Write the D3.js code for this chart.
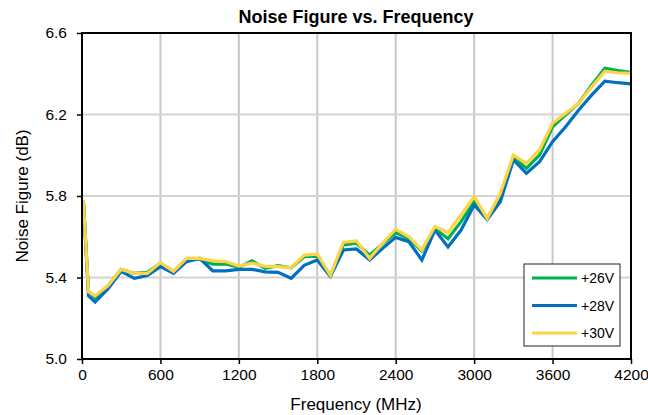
<!DOCTYPE html>
<html>
<head>
<meta charset="utf-8">
<script src="https://cdn.jsdelivr.net/npm/d3@7"></script>
<style>
  body { margin: 0; background: #fff; }
  text { font-family: "Liberation Sans", Arial, sans-serif; }
</style>
</head>
<body>
<div class="grafico"></div>
<script>
// frequency points (MHz)
const freqs = [10, 50, 100, 200, 300, 400, 500, 600, 700, 800, 900, 1000, 1100, 1200, 1300, 1400,
  1500, 1600, 1700, 1800, 1900, 2000, 2100, 2200, 2300, 2400, 2500, 2600, 2700, 2800, 2900,
  3000, 3100, 3200, 3300, 3400, 3500, 3600, 3700, 3800, 3900, 4000, 4100, 4200]

const nf26 = [5.78, 5.33, 5.30, 5.36, 5.44, 5.42, 5.425, 5.47, 5.43, 5.49, 5.49, 5.466, 5.466, 5.45, 5.482, 5.445,
  5.458, 5.448, 5.502, 5.505, 5.41, 5.56, 5.568, 5.51, 5.565, 5.62, 5.59, 5.53, 5.64, 5.59, 5.674,
  5.772, 5.69, 5.80, 5.99, 5.936, 6.001, 6.14, 6.198, 6.255, 6.345, 6.427, 6.415, 6.407]

const nf28 = [5.78, 5.31, 5.28, 5.345, 5.43, 5.396, 5.41, 5.453, 5.42, 5.478, 5.494, 5.433, 5.433, 5.44, 5.44, 5.428,
  5.425, 5.396, 5.46, 5.486, 5.405, 5.535, 5.54, 5.486, 5.543, 5.597, 5.576, 5.486, 5.633, 5.55, 5.633,
  5.756, 5.685, 5.772, 5.977, 5.911, 5.968, 6.067, 6.14, 6.222, 6.296, 6.364, 6.356, 6.35]

const nf30 = [5.78, 5.33, 5.31, 5.36, 5.44, 5.42, 5.42, 5.473, 5.43, 5.494, 5.494, 5.482, 5.478, 5.456, 5.47, 5.455,
  5.453, 5.448, 5.51, 5.515, 5.41, 5.573, 5.58, 5.494, 5.568, 5.637, 5.6, 5.535, 5.65, 5.62, 5.707,
  5.797, 5.69, 5.813, 6.0, 5.96, 6.026, 6.157, 6.206, 6.255, 6.336, 6.413, 6.405, 6.402]

const xTicks = [0, 600, 1200, 1800, 2400, 3000, 3600, 4200]
const yTicks = [5.0, 5.4, 5.8, 6.2, 6.6]

const seriesNames = ['+26V', '+28V', '+30V']
const seriesColors = ['#00B050', '#0070C0', '#FFD444']

/*canvas*/
const w = 648
const h = 415
const pLeft = 82, pRight = 631, pTop = 33, pBottom = 359

const svg = d3.select('.grafico')
  .append('svg')
  .attr('width', w)
  .attr('height', h)

const xScale = d3.scaleLinear().domain([0, 4200]).range([pLeft, pRight])
const yScale = d3.scaleLinear().domain([5.0, 6.6]).range([pBottom, pTop])

/*grid*/
svg.append('g')
  .selectAll('line')
  .data(xTicks.slice(1, -1))
  .enter().append('line')
  .attr('x1', d => xScale(d)).attr('x2', d => xScale(d))
  .attr('y1', pTop).attr('y2', pBottom)
  .attr('stroke', '#c8c8c8').attr('stroke-width', 2)

svg.append('g')
  .selectAll('line')
  .data(yTicks.slice(1, -1))
  .enter().append('line')
  .attr('x1', pLeft).attr('x2', pRight)
  .attr('y1', d => yScale(d)).attr('y2', d => yScale(d))
  .attr('stroke', '#d4d4d4').attr('stroke-width', 2)

/*ejes*/
const xAxis = d3.axisBottom(xScale).tickValues(xTicks).tickSize(5).tickPadding(5).tickFormat(d3.format('d'))
const yAxis = d3.axisLeft(yScale).tickValues(yTicks).tickSize(5).tickPadding(10).tickFormat(d3.format('.1f'))

const gx = svg.append('g').attr('transform', `translate(0,${pBottom})`).call(xAxis)
const gy = svg.append('g').attr('transform', `translate(${pLeft},0)`).call(yAxis)
;[gx, gy].forEach(g => {
  g.select('.domain').remove()
  g.selectAll('.tick line').attr('stroke', '#000').attr('stroke-width', 1.5)
  g.selectAll('.tick text').attr('font-size', 15.5).attr('fill', '#000')
    .style('font-family', '"Liberation Sans", Arial, sans-serif')
})

/*lineas*/
const line = d3.line()
  .x((d, i) => xScale(freqs[i]))
  .y(d => yScale(d))

;[nf26, nf28, nf30].forEach((s, i) => {
  svg.append('path')
    .datum(s)
    .attr('d', line)
    .attr('fill', 'none')
    .attr('stroke', seriesColors[i])
    .attr('stroke-width', 3.2)
    .attr('stroke-linejoin', 'miter')
})

/*marco*/
svg.append('rect')
  .attr('x', pLeft).attr('y', pTop)
  .attr('width', pRight - pLeft).attr('height', pBottom - pTop)
  .attr('fill', 'none').attr('stroke', '#000').attr('stroke-width', 2)

/*titulos*/
svg.append('text')
  .attr('x', 356).attr('y', 23)
  .attr('text-anchor', 'middle')
  .attr('font-size', 18).attr('font-weight', 'bold')
  .text('Noise Figure vs. Frequency')

svg.append('text')
  .attr('x', 356).attr('y', 410)
  .attr('text-anchor', 'middle')
  .attr('font-size', 17)
  .text('Frequency (MHz)')

svg.append('text')
  .attr('transform', `translate(28,${(pTop + pBottom) / 2}) rotate(-90)`)
  .attr('text-anchor', 'middle')
  .attr('font-size', 17)
  .text('Noise Figure (dB)')

/*legend*/
const legend = svg.append('g').attr('transform', 'translate(524,264)')
legend.append('rect')
  .attr('width', 96).attr('height', 82)
  .attr('fill', '#fff').attr('stroke', '#222').attr('stroke-width', 1)

seriesNames.forEach((name, i) => {
  const y = 14 + i * 27.5
  legend.append('line')
    .attr('x1', 8).attr('x2', 53).attr('y1', y).attr('y2', y)
    .attr('stroke', seriesColors[i]).attr('stroke-width', 3.2)
  legend.append('text')
    .attr('x', 57).attr('y', y + 5)
    .attr('font-size', 14)
    .text(name)
})
</script>
</body>
</html>
